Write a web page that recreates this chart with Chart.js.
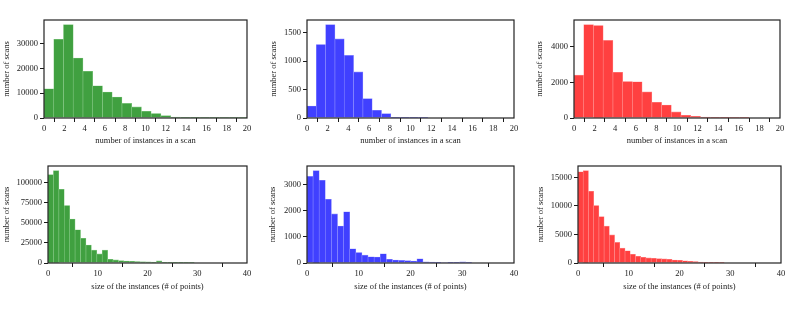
<!DOCTYPE html>
<html>
<head>
<meta charset="utf-8">
<script src="https://cdn.jsdelivr.net/npm/chart.js@4"></script>
<style>
  html, body { margin: 0; padding: 0; background: #fff; }
  body { position: relative; width: 789px; height: 324px; overflow: hidden; }
  canvas { position: absolute; }
</style>
</head>
<body>
<canvas id="c1"></canvas>
<canvas id="c2"></canvas>
<canvas id="c3"></canvas>
<canvas id="c4"></canvas>
<canvas id="c5"></canvas>
<canvas id="c6"></canvas>
<script>
'use strict';

// ── Data (histogram counts per bin) ───────────────────────────────────────
const INST_GREEN = [11800, 31800, 37700, 24200, 18900, 13000, 10500, 8500, 5900, 4500, 2700, 1800, 950, 400, 150, 60, 25, 10, 5, 2, 1];
const INST_BLUE  = [210, 1290, 1640, 1390, 1100, 810, 340, 135, 76, 12, 4, 2, 1];
const INST_RED   = [2400, 5230, 5180, 4350, 2560, 2040, 2030, 1460, 880, 730, 340, 150, 95, 55, 35, 10, 5, 2];

const SIZE_GREEN = [109700, 114700, 91600, 71400, 54600, 41200, 30700, 22300, 16000, 11300, 16000, 4600, 3800, 2900,
                    2500, 2100, 1800, 1500, 1300, 1100, 2600, 900, 500, 300, 150, 60, 20];
const SIZE_BLUE  = [3300, 3520, 3150, 2430, 1870, 1410, 1950, 540, 400, 300, 235, 225, 350, 140, 115, 100, 90, 75,
                    160, 40, 35, 30, 20, 5, 5, 40, 3];
const SIZE_RED   = [16000, 16200, 12570, 10080, 8120, 6460, 4920, 3620, 2610, 2130, 1540, 1190, 1000, 890, 830, 770,
                    710, 650, 530, 470, 380, 300, 230, 170, 120, 70, 30, 10];

// bin widths of each histogram (x units)
const BIN_W = { instGreen: 0.96, instBlue: 0.9, instRed: 0.945, sizeGreen: 1.09, sizeBlue: 1.18, sizeRed: 1.03 };

const X_TITLE_INST = 'number of instances in a scan';
const X_TITLE_SIZE = 'size of the instances (# of points)';
const Y_TITLE      = 'number of scans';

// ── Styling ───────────────────────────────────────────────────────────────
const TXT  = '#1a1a1a';
const FONT = { family: "'Liberation Serif', 'DejaVu Serif', serif", size: 8.5 };
const GREEN = { fill: '#40a040', edge: '#86c986' };
const BLUE  = { fill: '#4040ff', edge: '#8c8cff' };
const RED   = { fill: '#ff4040', edge: '#ff8c8c' };

// ── Panel layout: plot rect [left, top, right, bottom] in page px ─────────
const PANELS = [
  { id: 'c1', values: INST_GREEN, binW: BIN_W.instGreen, col: GREEN, xMax: 20, xStep: 2,  yStep: 10000, xTitle: X_TITLE_INST, rect: [44, 20, 247, 118],  yOff: 37, xOff: 23 },
  { id: 'c2', values: INST_BLUE,  binW: BIN_W.instBlue,  col: BLUE,  xMax: 20, xStep: 2,  yStep: 500,   xTitle: X_TITLE_INST, rect: [307, 20, 514, 118], yOff: 33, xOff: 23 },
  { id: 'c3', values: INST_RED,   binW: BIN_W.instRed,   col: RED,   xMax: 20, xStep: 2,  yStep: 2000,  xTitle: X_TITLE_INST, rect: [574, 20, 780, 118], yOff: 34, xOff: 23 },
  { id: 'c4', values: SIZE_GREEN, binW: BIN_W.sizeGreen, col: GREEN, xMax: 40, xStep: 10, yStep: 25000, xTitle: X_TITLE_SIZE, rect: [48, 166, 247, 263], yOff: 41, xOff: 24 },
  { id: 'c5', values: SIZE_BLUE,  binW: BIN_W.sizeBlue,  col: BLUE,  xMax: 40, xStep: 10, yStep: 1000,  xTitle: X_TITLE_SIZE, rect: [307, 166, 514, 263], yOff: 34, xOff: 24 },
  { id: 'c6', values: SIZE_RED,   binW: BIN_W.sizeRed,   col: RED,   xMax: 40, xStep: 10, yStep: 5000,  xTitle: X_TITLE_SIZE, rect: [578, 166, 781, 263], yOff: 37, xOff: 24 },
];

// Draws the full box around the plot area (matplotlib-style spines)
const framePlugin = {
  id: 'frame',
  afterDatasetsDraw(chart) {
    const { ctx, chartArea: a } = chart;
    ctx.save();
    ctx.strokeStyle = '#222';
    ctx.lineWidth = 1.2;
    ctx.strokeRect(a.left, a.top, a.right - a.left, a.bottom - a.top);
    ctx.restore();
  },
};

function buildPanel(p) {
  const [l, t, r, b] = p.rect;
  const PAD_TOP = 4, PAD_RIGHT = 10;
  const yW = p.yOff + 5;   // y axis box width (title centre sits ~5px in)
  const xH = p.xOff + 5;   // x axis box height
  const yMax = Math.max(...p.values) * 1.05;   // matplotlib 5% top margin
  const canvas = document.getElementById(p.id);
  const w = yW + (r - l) + PAD_RIGHT;
  const h = PAD_TOP + (b - t) + xH;
  canvas.width = w; canvas.height = h;
  canvas.style.width = w + 'px'; canvas.style.height = h + 'px';
  canvas.style.left = (l - yW) + 'px';
  canvas.style.top = (t - PAD_TOP) + 'px';

  const tickGrid = () => ({ display: true, drawOnChartArea: false, drawTicks: true, tickLength: 4, color: TXT, tickColor: TXT, tickWidth: 1 });

  return new Chart(canvas, {
    type: 'bar',
    data: {
      datasets: [{
        data: p.values.map((v, i) => ({ x: (i + 0.5) * p.binW, y: v })),
        backgroundColor: p.col.fill,
        borderColor: p.col.edge,
        borderWidth: 0.6,
        barPercentage: 1,
        categoryPercentage: 1,
      }],
    },
    options: {
      responsive: false,
      animation: false,
      devicePixelRatio: 1,
      layout: { padding: { top: PAD_TOP, right: PAD_RIGHT, left: 0, bottom: 0 } },
      plugins: { legend: { display: false }, tooltip: { enabled: false } },
      scales: {
        x: {
          type: 'linear', min: 0, max: p.xMax, offset: false,
          ticks: { stepSize: p.xStep, padding: 2, color: TXT, font: FONT, maxRotation: 0, autoSkip: false },
          grid: tickGrid(),
          border: { display: false },
          title: { display: true, text: p.xTitle, color: TXT, font: FONT, padding: 0 },
          afterFit(s) { s.height = xH; s.paddingLeft = 0; s.paddingRight = 0; },
        },
        y: {
          min: 0, bounds: 'data',
          ticks: { stepSize: p.yStep, padding: 2, color: TXT, font: FONT, autoSkip: false, callback: v => String(v) },
          grid: tickGrid(),
          border: { display: false },
          title: { display: true, text: Y_TITLE, color: TXT, font: FONT, padding: 0 },
          afterDataLimits(s) { s.max = yMax; },
          // ticks at whole multiples of the step only (like matplotlib)
          afterBuildTicks(s) {
            const out = [];
            for (let v = 0; v <= s.max; v += p.yStep) out.push({ value: v });
            s.ticks = out;
          },
          afterFit(s) { s.width = yW; s.paddingTop = 0; s.paddingBottom = 0; },
        },
      },
    },
    plugins: [framePlugin],
  });
}

PANELS.forEach(buildPanel);
</script>
</body>
</html>
